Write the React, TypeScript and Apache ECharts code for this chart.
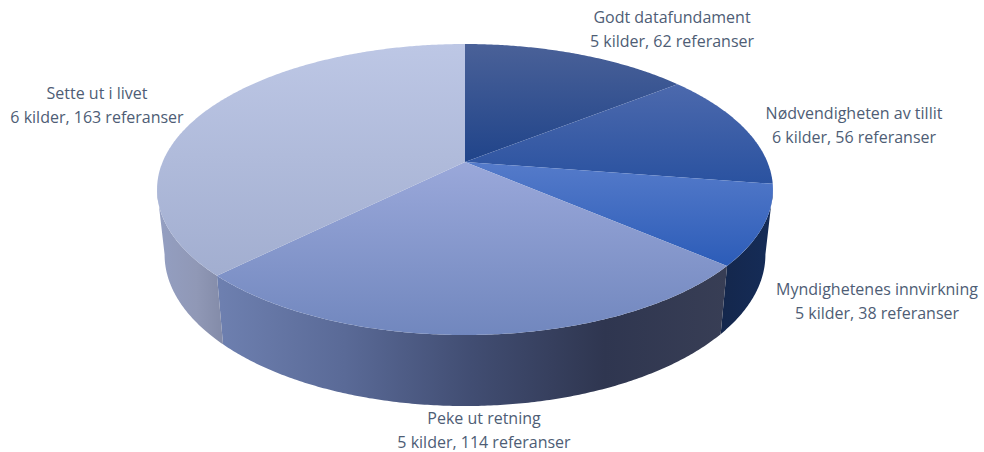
import React, { useEffect, useRef } from "react";
import * as echarts from "echarts";

// Themes and their counts
const themes = [
  "Godt datafundament",
  "Nødvendigheten av tillit",
  "Myndighetenes innvirkning",
  "Peke ut retning",
  "Sette ut i livet",
];
const sources = [5, 6, 5, 5, 6];
const references = [62, 56, 38, 114, 163];

// Vertical shading of each slice's upper face
const topColors = [
  ["#4a6198", "#20448a"],
  ["#4c69ad", "#2a52a0"],
  ["#557bca", "#2c5cb8"],
  ["#9aa8da", "#7187be"],
  ["#bdc7e5", "#a2aed0"],
];

// Horizontal shading of the outer wall, only for slices that face the viewer
const wallStops: Record<number, [number, string][]> = {
  2: [
    [0, "#14274c"],
    [1, "#152c58"],
  ],
  3: [
    [0, "#6e80b0"],
    [0.25, "#5a6a97"],
    [0.5, "#414d72"],
    [0.76, "#2f3650"],
    [1, "#383e55"],
  ],
  4: [
    [0, "#949fc2"],
    [0.6, "#9098b6"],
    [1, "#838ba8"],
  ],
};

// Perspective disc: a unit circle tilted away, back edge shrunk by the factor k
const W = 984;
const H = 452;
const APEX_X = 465;
const APEX_Y = 162;
const K = 0.189;
const CAMERA_YAW = 1; // degrees of clockwise drift towards the front of the disc
const UPPER = { sx: 302.4, sy: 140.3, cy: APEX_Y };
const LOWER = { sx: 295, sy: 146, cy: 226 };
// Angle (degrees, clockwise from the back) where the disc is widest
const SILHOUETTE = (Math.acos(-K) * 180) / Math.PI;

const labelAnchors = [
  [672, 29],
  [854, 125],
  [877, 301],
  [484, 430],
  [97, 105],
];

const total = references.reduce((a, b) => a + b, 0);
const bounds = references.reduce<number[]>(
  (acc, v) => [...acc, acc[acc.length - 1] + (v / total) * 360],
  [0]
);

function yawed(deg: number): number {
  return deg + (CAMERA_YAW * (1 - Math.cos((deg * Math.PI) / 180))) / 2;
}

function rim(deg: number, f: { sx: number; sy: number; cy: number }): number[] {
  const t = (deg * Math.PI) / 180;
  const w = 1 + K * Math.cos(t);
  return [APEX_X + (f.sx * Math.sin(t)) / w, f.cy - (f.sy * Math.cos(t)) / w];
}

function arc(a: number, b: number, f: typeof UPPER): number[][] {
  const n = Math.max(2, Math.ceil(Math.abs(b - a) * 2));
  return Array.from({ length: n + 1 }, (_, i) => rim(a + ((b - a) * i) / n, f));
}

function renderWall(params: any) {
  const i = params.dataIndex;
  const stops = wallStops[i];
  if (!stops) return { type: "group", children: [] };
  // Clip the wall to the visible front half of the disc
  const a = Math.max(yawed(bounds[i]), SILHOUETTE);
  const b = Math.min(yawed(bounds[i + 1]), 360 - SILHOUETTE);
  const points = [...arc(a, b, UPPER), ...arc(b, a, LOWER)];
  return {
    type: "polygon",
    shape: { points },
    style: {
      fill: new echarts.graphic.LinearGradient(
        0,
        0,
        1,
        0,
        stops.map(([offset, color]) => ({ offset, color }))
      ),
    },
  };
}

function renderTop(params: any) {
  const i = params.dataIndex;
  const points = [
    [APEX_X, APEX_Y],
    ...arc(yawed(bounds[i]), yawed(bounds[i + 1]), UPPER),
  ];
  return {
    type: "polygon",
    shape: { points },
    style: {
      fill: new echarts.graphic.LinearGradient(0, 0, 0, 1, [
        { offset: 0, color: topColors[i][0] },
        { offset: 1, color: topColors[i][1] },
      ]),
    },
  };
}

function renderLabel(params: any) {
  const i = params.dataIndex;
  return {
    type: "text",
    x: labelAnchors[i][0],
    y: labelAnchors[i][1],
    style: {
      text: `${themes[i]}\n${sources[i]} kilder, ${references[i]} referanser`,
      fill: "#4e5d75",
      font: '16px "Open Sans"',
      lineHeight: 23.5,
      align: "center",
      verticalAlign: "middle",
    },
  };
}

export default function App() {
  const ref = useRef<HTMLDivElement>(null);

  useEffect(() => {
    const chart = echarts.init(ref.current!, undefined, { renderer: "svg" });
    const layer = (name: string, z: number, renderItem: any) => ({
      type: "custom",
      name,
      coordinateSystem: "none",
      z,
      silent: true,
      data: references,
      renderItem,
    });
    chart.setOption({
      animation: false,
      backgroundColor: "#ffffff",
      series: [
        layer("wall", 1, renderWall),
        layer("top", 2, renderTop),
        layer("labels", 3, renderLabel),
      ],
    });
    return () => chart.dispose();
  }, []);

  return (
    <div
      ref={ref}
      style={{ position: "absolute", left: 0, top: 0, width: W, height: H }}
    />
  );
}
